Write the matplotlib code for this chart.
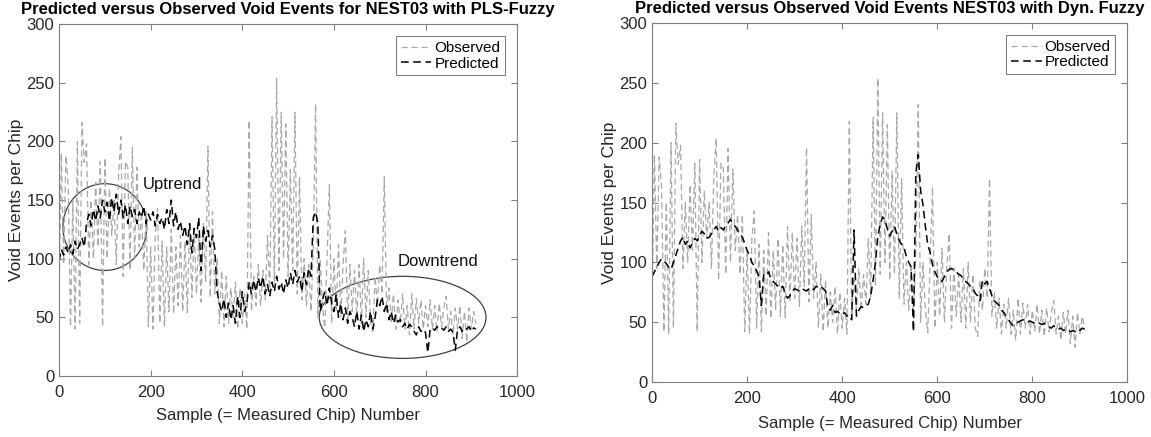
import numpy as np
import matplotlib
matplotlib.use("Agg")
import matplotlib.pyplot as plt
from matplotlib.patches import Ellipse

plt.rcParams["font.family"] = ["Liberation Sans", "DejaVu Sans"]

# sample numbers (every 5th chip)
samples = np.arange(0, 915, 5)

# observed void events (same measurements in both panels)
observed = [
    65, 190, 95, 188, 163, 42, 150, 40, 200, 45, 216, 182, 198, 95, 150, 100,
    165, 110, 183, 42, 186, 100, 160, 120, 150, 95, 172, 204, 85, 183, 178, 90,
    195, 100, 178, 110, 140, 90, 140, 42, 110, 40, 120, 143, 45, 115, 42, 110,
    55, 125, 53, 110, 60, 120, 55, 115, 54, 130, 67, 125, 70, 120, 63, 130,
    80, 196, 67, 140, 70, 100, 45, 90, 42, 85, 45, 75, 50, 80, 40, 75,
    45, 70, 40, 218, 55, 85, 60, 95, 60, 90, 65, 120, 70, 221, 80, 254,
    90, 225, 100, 215, 85, 176, 90, 225, 70, 170, 65, 100, 60, 95, 55, 110,
    232, 50, 100, 60, 41, 100, 163, 45, 100, 55, 112, 50, 95, 124, 45, 95,
    55, 90, 50, 95, 45, 100, 50, 90, 45, 38, 85, 60, 95, 70, 170, 55,
    75, 45, 70, 40, 65, 45, 70, 40, 60, 35, 70, 40, 66, 45, 65, 40,
    60, 42, 65, 40, 60, 38, 62, 42, 58, 68, 40, 55, 35, 58, 40, 60,
    32, 55, 29, 58, 40, 55, 45,
]

# PLS-Fuzzy prediction
pred_pls = [
    98, 108, 103, 110, 105, 112, 104, 115, 108, 112, 118, 110, 130, 138, 128, 142,
    132, 145, 135, 150, 140, 148, 132, 152, 140, 155, 138, 150, 135, 146, 130, 145,
    136, 142, 130, 140, 135, 145, 130, 138, 133, 140, 128, 138, 130, 135, 125, 142,
    130, 150, 128, 140, 125, 132, 120, 128, 112, 130, 105, 126, 118, 135, 90, 128,
    115, 124, 110, 120, 108, 72, 62, 55, 66, 50, 62, 48, 60, 45, 68, 50,
    72, 55, 62, 80, 70, 82, 72, 84, 75, 85, 70, 78, 68, 80, 72, 85,
    74, 80, 70, 82, 75, 88, 78, 90, 80, 85, 72, 88, 78, 92, 85, 135,
    140, 130, 55, 65, 72, 60, 75, 62, 55, 70, 50, 62, 48, 58, 45, 55,
    50, 42, 55, 40, 52, 38, 48, 42, 55, 40, 50, 65, 60, 68, 55, 62,
    48, 55, 45, 52, 46, 48, 42, 45, 40, 44, 42, 38, 35, 42, 38, 40,
    37, 20, 40, 41, 39, 42, 40, 41, 39, 42, 38, 40, 37, 22, 40, 42,
    38, 41, 40, 42, 38, 41, 40,
]

# Dynamic fuzzy prediction
pred_dyn = [
    88, 92, 96, 100, 103, 101, 99, 96, 94, 100, 106, 112, 118, 121, 115, 118,
    112, 116, 120, 118, 122, 126, 124, 120, 121, 124, 127, 130, 126, 129, 127, 131,
    133, 136, 132, 130, 127, 124, 121, 116, 110, 106, 100, 97, 93, 88, 64, 90,
    89, 92, 86, 84, 82, 80, 78, 80, 74, 70, 72, 76, 78, 77, 76, 78,
    77, 76, 78, 79, 77, 80, 79, 80, 78, 76, 62, 60, 64, 58, 59, 57,
    56, 58, 55, 56, 52, 127, 55, 60, 63, 62, 64, 65, 72, 85, 100, 122,
    132, 138, 136, 128, 122, 126, 130, 124, 118, 115, 112, 105, 100, 96, 42, 175,
    190, 160, 148, 130, 115, 108, 98, 92, 88, 86, 84, 88, 92, 94, 95, 93,
    92, 90, 89, 86, 84, 82, 80, 78, 74, 72, 68, 85, 82, 84, 78, 72,
    68, 66, 64, 60, 58, 55, 52, 49, 47, 48, 50, 51, 52, 51, 50, 51,
    50, 49, 50, 49, 48, 49, 47, 46, 45, 47, 45, 44, 45, 43, 44, 43,
    42, 43, 42, 44, 43, 45, 44,
]

titles = [
    "Predicted versus Observed Void Events for NEST03 with PLS-Fuzzy",
    "Predicted versus Observed Void Events NEST03 with Dyn. Fuzzy",
]

OBS_COLOR = "#a8a8a8"
PRED_COLOR = "#000000"
AXIS_COLOR = "#808080"
TEXT_COLOR = "#262626"

fig = plt.figure(figsize=(11.51, 4.37), dpi=100)
ax1 = fig.add_axes([0.0513, 0.1396, 0.398, 0.805])
ax2 = fig.add_axes([0.5665, 0.126, 0.413, 0.821])

for ax, pred, title, xpad in zip([ax1, ax2], [pred_pls, pred_dyn], titles,
                                 [5.5, 7.5]):
    ax.plot(samples, observed, color=OBS_COLOR, linewidth=0.9,
            linestyle=(0, (5, 3)), label="Observed")
    ax.plot(samples, pred, color=PRED_COLOR, linewidth=1.1,
            linestyle=(0, (5, 3)), label="Predicted")
    ax.set_xlim(0, 1000)
    ax.set_ylim(0, 300)
    ax.set_xticks(np.arange(0, 1001, 200))
    ax.set_yticks(np.arange(0, 301, 50))
    ax.tick_params(direction="in", top=True, right=True, length=4,
                   color=AXIS_COLOR, labelcolor=TEXT_COLOR, labelsize=12)
    ax.tick_params(axis="x", pad=6.5)
    for sp in ax.spines.values():
        sp.set_color(AXIS_COLOR)
        sp.set_linewidth(0.8)
    ax.set_xlabel("Sample (= Measured Chip) Number", fontsize=12,
                  color=TEXT_COLOR, labelpad=xpad)
    ax.set_ylabel("Void Events per Chip", fontsize=12.5, color=TEXT_COLOR,
                  labelpad=2)
    ax.set_title(title, fontsize=12, fontweight="bold", pad=7)
    leg = ax.legend(loc="upper right", fontsize=11, fancybox=False,
                    framealpha=1, edgecolor=AXIS_COLOR, handlelength=2.0,
                    handletextpad=0.2, borderpad=0.3, labelspacing=0.1,
                    borderaxespad=0.8)
    leg.get_frame().set_linewidth(0.8)

# trend annotations on the PLS-Fuzzy panel
ax1.add_patch(Ellipse((100, 127), 183, 74, fill=False, edgecolor="#404040",
                      linewidth=0.9))
ax1.text(183, 163, "Uptrend", fontsize=12, color="#111111", va="center")
ax1.add_patch(Ellipse((750, 50), 364, 70, fill=False, edgecolor="#404040",
                      linewidth=0.9))
ax1.text(740, 98, "Downtrend", fontsize=12, color="#111111", va="center")

fig.savefig("out.png", dpi=100)
